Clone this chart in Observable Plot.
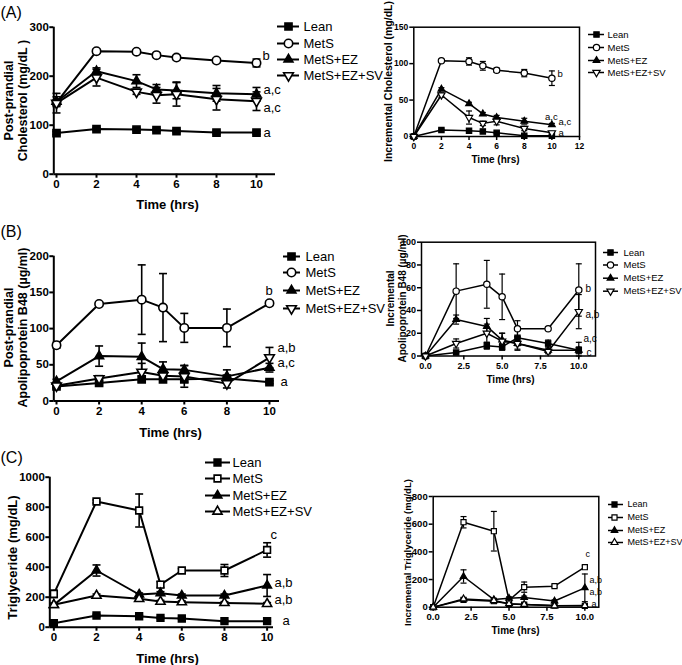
<!DOCTYPE html>
<html><head><meta charset="utf-8">
<script src="https://cdn.jsdelivr.net/npm/d3@7"></script>
<script src="https://cdn.jsdelivr.net/npm/@observablehq/plot@0.6"></script>
<style>
body{margin:0;background:#fff;}
#fig{position:relative;width:682px;height:665px;overflow:hidden;font-family:"Liberation Sans",Arial,Helvetica,sans-serif;}
</style></head><body><div id="fig"></div><script>
// ---------- data ----------
const hours = [0, 2, 4, 5, 6, 8, 10];
const groups = ["Lean", "MetS", "MetS+EZ", "MetS+EZ+SV"];

// (A) post-prandial cholesterol (mg/dL)
const cholLean = [84, 92, 91, 90, 88, 85, 85];
const cholLeanErr = [3, 3, 3, 3, 3, 3, 3];
const cholMetS = [146, 251, 250, 243, 238, 232, 227];
const cholMetSErr = [5, 4, 4, 4, 4, 4, 8];
const cholEZ = [148, 210, 190, 173, 171, 165, 163];
const cholEZErr = [10, 7, 13, 10, 17, 16, 14];
const cholSV = [145, 197, 168, 161, 163, 153, 149];
const cholSVErr = [20, 17, 5, 16, 24, 22, 19];
// (A) incremental cholesterol (mg/dL)
const incCholLean = [0, 9, 8, 7, 5, 1, 1];
const incCholLeanErr = [0, 1, 1, 1, 1, 1, 1];
const incCholMetS = [0, 104, 103, 97, 91, 87, 80];
const incCholMetSErr = [0, 1, 5, 6, 3, 5, 10];
const incCholEZ = [0, 65, 45, 31, 26, 21, 16];
const incCholEZErr = [0, 2, 2, 2, 3, 4, 2];
const incCholSV = [0, 57, 26, 18, 21, 11, 5];
const incCholSVErr = [0, 3, 9, 3, 5, 3, 2];

// (B) post-prandial apolipoprotein B48 (ug/ml)
const apoLean = [20, 25, 30, 30, 30, 31, 26];
const apoLeanErr = [2, 3, 4, 4, 4, 4, 2];
const apoMetS = [77, 134, 140, 129, 101, 101, 135];
const apoMetSErr = [4, 3, 48, 47, 20, 26, 3];
const apoEZ = [27, 62, 61, 44, 43, 34, 46];
const apoEZErr = [3, 14, 19, 10, 6, 9, 6];
const apoSV = [21, 31, 40, 35, 34, 24, 60];
const apoSVErr = [2, 4, 12, 8, 15, 6, 14];
// (B) incremental apolipoprotein B48
const incApoLean = [0, 3, 9, 8, 16, 11, 5];
const incApoLeanErr = [0, 1, 3, 3, 7, 3, 3];
const incApoMetS = [0, 57, 63, 52, 24, 24, 58];
const incApoMetSErr = [0, 24, 21, 20, 7, 0, 23];
const incApoEZ = [0, 32, 26, 14, 11, 5, 5];
const incApoEZErr = [0, 4, 7, 6, 5, 2, 7];
const incApoSV = [0, 11, 20, 13, 11, 4, 39];
const incApoSVErr = [0, 4, 8, 7, 6, 2, 15];

// (C) triglyceride (mg/dL)
const tgLean = [27, 78, 73, 62, 58, 40, 40];
const tgLeanErr = [5, 8, 6, 5, 5, 4, 4];
const tgMetS = [222, 838, 778, 284, 378, 378, 515];
const tgMetSErr = [25, 10, 110, 20, 12, 40, 48];
const tgEZ = [149, 378, 218, 227, 211, 211, 278];
const tgEZErr = [10, 37, 10, 10, 10, 10, 73];
const tgSV = [149, 211, 189, 171, 167, 162, 156];
const tgSVErr = [10, 10, 10, 8, 8, 8, 8];
// (C) incremental triglyceride
const incTgLean = [0, 53, 43, 24, 19, 12, 10];
const incTgLeanErr = [0, 5, 5, 4, 4, 3, 3];
const incTgMetS = [0, 614, 549, 50, 145, 152, 289];
const incTgMetSErr = [0, 41, 143, 10, 37, 8, 10];
const incTgEZ = [0, 222, 55, 65, 70, 45, 140];
const incTgEZErr = [0, 48, 10, 10, 10, 8, 100];
const incTgSV = [0, 60, 48, 25, 20, 10, 12];
const incTgSVErr = [0, 6, 5, 5, 5, 4, 4];

// tick values
const cholTicks = [0, 100, 200, 300];
const incCholTicks = [0, 50, 100, 150];
const apoTicks = [0, 50, 100, 150, 200];
const incApoTicks = [0, 20, 40, 60, 80, 100];
const tgTicks = [0, 200, 400, 600, 800, 1000];
const incTgTicks = [0, 200, 400, 600, 800];
const hourTicks = [0, 2, 4, 6, 8, 10];
const hourTicks12 = [0, 2, 4, 6, 8, 10, 12];
const hourTicksDec = [0, 2.5, 5, 7.5, 10];

// ---------- symbols ----------
const SQ3 = Math.sqrt(3);
const triangleDown = {draw(ctx, size) {
  const y = -Math.sqrt(size / (SQ3 * 3));
  ctx.moveTo(0, -y * 2); ctx.lineTo(-SQ3 * y, y); ctx.lineTo(SQ3 * y, y); ctx.closePath();
}};
const capSymbol = {draw(ctx, size) {
  const w = Math.sqrt(size / Math.PI);
  ctx.moveTo(-w, 0); ctx.lineTo(w, 0);
}};
const styleAB = [
  {symbol: "square", fill: "black", r: 4},
  {symbol: "circle", fill: "white", r: 4.2},
  {symbol: "triangle", fill: "black", r: 3.3},
  {symbol: triangleDown, fill: "white", r: 3.6}
];
const styleC = [
  {symbol: "square", fill: "black", r: 3.8},
  {symbol: "square", fill: "white", r: 3.8},
  {symbol: "triangle", fill: "black", r: 3.2},
  {symbol: "triangle", fill: "white", r: 3.4}
];

const fig = document.getElementById("fig");
const FONT = "'Liberation Sans', Arial, Helvetica, sans-serif";

function buildPanel(c) {
  const [bl, bt, bw, bh] = c.box;
  const {L, R, T, B, xd, yd} = c;
  const px = p => xd[0] + (p - L) / (R - L) * (xd[1] - xd[0]);
  const py = p => yd[0] + (B - p) / (B - T) * (yd[1] - yd[0]);
  const rows = [];
  c.series.forEach((s, k) => s.mean.forEach((v, i) => rows.push({g: groups[k], k, t: hours[i], v, e: s.err[i]})));
  const errRows = rows.filter(d => d.e > 0);
  const sc = c.scale;
  const marks = [];
  if (c.boxed) marks.push(Plot.frame({stroke: "black", strokeWidth: c.axisW}));
  else marks.push(
    Plot.ruleX([xd[0]], {stroke: "black", strokeWidth: c.axisW}),
    Plot.ruleY([yd[0]], {stroke: "black", strokeWidth: c.axisW})
  );
  marks.push(
    Plot.axisY({ticks: c.yTicks, tickSize: c.tickSize, tickPadding: c.tickPad, strokeWidth: c.axisW, label: null,
      tickFormat: d => String(d), fontSize: c.tickFont, fontWeight: "bold"}),
    Plot.axisX({ticks: c.xTicks, tickSize: c.tickSize, tickPadding: c.tickPad + 1, strokeWidth: c.axisW, label: null,
      tickFormat: c.xFmt || (d => String(d)), fontSize: c.tickFont, fontWeight: "bold"}),
    Plot.line(rows, {x: "t", y: "v", z: "g", stroke: "black", strokeWidth: c.lineW}),
    Plot.ruleX(errRows, {x: "t", y1: d => d.v - d.e, y2: d => d.v + d.e, stroke: "black", strokeWidth: c.errW}),
    Plot.dot(errRows, {x: "t", y: d => d.v + d.e, symbol: capSymbol, r: 4 * sc, fill: "none", stroke: "black", strokeWidth: c.errW}),
    Plot.dot(errRows, {x: "t", y: d => Math.max(yd[0], d.v - d.e), symbol: capSymbol, r: 4 * sc, fill: "none", stroke: "black", strokeWidth: c.errW})
  );
  c.styles.forEach((st, k) => {
    marks.push(Plot.dot(rows.filter(d => d.k === k), {x: "t", y: "v", symbol: st.symbol, r: st.r * sc,
      fill: st.fill, stroke: "black", strokeWidth: c.markW}));
  });
  // legend
  const lg = c.legend;
  const lrows = groups.map((g, k) => ({g, k, y: py(lg.rows[k]), x1: px(lg.x1), x2: px(lg.x2), xm: px(lg.xm), xt: px(lg.xt)}));
  marks.push(Plot.ruleY(lrows, {y: "y", x1: "x1", x2: "x2", stroke: "black", strokeWidth: c.lineW}));
  c.styles.forEach((st, k) => {
    marks.push(Plot.dot(lrows.filter(d => d.k === k), {x: "xm", y: "y", symbol: st.symbol, r: st.r * sc,
      fill: st.fill, stroke: "black", strokeWidth: c.markW}));
  });
  marks.push(Plot.text(lrows, {x: "xt", y: "y", text: "g", textAnchor: "start", fontSize: lg.font, fontWeight: "normal"}));
  // significance letters
  marks.push(Plot.text(c.letters.map(d => ({...d, xx: px(d.x), yy: py(d.y)})),
    {x: "xx", y: "yy", text: "s", textAnchor: "start", fontSize: c.letterFont, fontWeight: "normal"}));
  // axis titles
  marks.push(Plot.text([c.xTitle], {x: d => px(d.x), y: d => py(d.y), text: "s", fontSize: c.xTitle.size, fontWeight: "bold"}));
  marks.push(Plot.text([c.yTitle], {x: d => px(d.x), y: d => py(d.y), text: "s", rotate: -90, fontSize: c.yTitle.size,
    fontWeight: "bold", lineHeight: c.yTitle.lh || 1}));
  if (c.panelLabel) marks.push(Plot.text([c.panelLabel], {x: d => px(d.x), y: d => py(d.y), text: "s", textAnchor: "start",
    fontSize: c.panelLabel.size, fontWeight: "normal"}));

  const svg = Plot.plot({
    width: bw, height: bh,
    marginLeft: L - bl, marginRight: bl + bw - R, marginTop: T - bt, marginBottom: bt + bh - B,
    x: {domain: xd}, y: {domain: yd},
    style: {background: "transparent", fontFamily: FONT, color: "black", overflow: "visible"},
    marks
  });
  svg.style.position = "absolute";
  svg.style.left = bl + "px";
  svg.style.top = bt + "px";
  fig.appendChild(svg);
}

const big = {tickSize: 4, tickPad: 1, axisW: 2, lineW: 2, errW: 1.6, markW: 1.6, tickFont: 11.5, letterFont: 13, scale: 1};
const small = {tickSize: 4, tickPad: 1.5, axisW: 1.5, lineW: 1.5, errW: 1.2, markW: 1.2, tickFont: 8.5, letterFont: 9.5, scale: 0.75, boxed: true};

// (A) left
buildPanel({...big, box: [0, 0, 380, 215], L: 53.3, R: 275, T: 26.7, B: 173.7, xd: [-0.135, 10.95], yd: [0, 300],
  yTicks: cholTicks, xTicks: hourTicks, styles: styleAB,
  series: [{mean: cholLean, err: cholLeanErr}, {mean: cholMetS, err: cholMetSErr}, {mean: cholEZ, err: cholEZErr}, {mean: cholSV, err: cholSVErr}],
  legend: {x1: 277, x2: 299, xm: 288, xt: 303, rows: [26, 43, 59, 75], font: 13},
  letters: [{s: "b", x: 262, y: 55}, {s: "a,c", x: 263, y: 89}, {s: "a,c", x: 263, y: 107}, {s: "a", x: 263, y: 132}],
  xTitle: {s: "Time (hrs)", x: 167, y: 204, size: 13},
  yTitle: {s: "Post-prandial\nCholesterol (mg/dL )", x: 15, y: 100, size: 12.5, lh: 1.08},
  panelLabel: {s: "(A)", x: 0, y: 12, size: 16}});

// (A) right
buildPanel({...small, box: [380, 0, 302, 215], L: 413.3, R: 579, T: 26.7, B: 136, xd: [0, 12], yd: [0, 150],
  yTicks: incCholTicks, xTicks: hourTicks12, styles: styleAB,
  series: [{mean: incCholLean, err: incCholLeanErr}, {mean: incCholMetS, err: incCholMetSErr}, {mean: incCholEZ, err: incCholEZErr}, {mean: incCholSV, err: incCholSVErr}],
  legend: {x1: 588, x2: 604, xm: 596, xt: 607, rows: [34, 47, 60, 72], font: 9.5},
  letters: [{s: "b", x: 557, y: 73}, {s: "a,c", x: 544.5, y: 116}, {s: "a,c", x: 558, y: 121}, {s: "a", x: 558, y: 132.5}],
  xTitle: {s: "Time (hrs)", x: 495, y: 159, size: 10},
  yTitle: {s: "Incremental Cholesterol (mg/dL)", x: 388, y: 81, size: 10.5}});

// (B) left
buildPanel({...big, box: [0, 215, 380, 225], L: 53.3, R: 279, T: 255.7, B: 400.5, xd: [-0.127, 10.47], yd: [0, 200],
  yTicks: apoTicks, xTicks: hourTicks, styles: styleAB,
  series: [{mean: apoLean, err: apoLeanErr}, {mean: apoMetS, err: apoMetSErr}, {mean: apoEZ, err: apoEZErr}, {mean: apoSV, err: apoSVErr}],
  legend: {x1: 283, x2: 300, xm: 291, xt: 305, rows: [256, 272, 290, 308], font: 13},
  letters: [{s: "b", x: 265, y: 290}, {s: "a,b", x: 277, y: 347}, {s: "a,c", x: 277, y: 362}, {s: "a", x: 280, y: 381}],
  xTitle: {s: "Time (hrs)", x: 170, y: 432, size: 13},
  yTitle: {s: "Post-prandial\nApolipoprotein B48 (\u00b5g/ml)", x: 15, y: 327, size: 12.5, lh: 1.1},
  panelLabel: {s: "(B)", x: 0, y: 231, size: 16}});

// (B) right
buildPanel({...small, tickFont: 9, letterFont: 10, box: [380, 215, 302, 225], L: 421, R: 595, T: 241.7, B: 355.5, xd: [-0.26, 11.09], yd: [0, 100],
  yTicks: incApoTicks, xTicks: hourTicksDec, xFmt: d => d.toFixed(1), styles: styleAB,
  series: [{mean: incApoLean, err: incApoLeanErr}, {mean: incApoMetS, err: incApoMetSErr}, {mean: incApoEZ, err: incApoEZErr}, {mean: incApoSV, err: incApoSVErr}],
  legend: {x1: 603, x2: 618, xm: 610, xt: 623, rows: [252, 264.5, 277.7, 290.7], font: 9.5},
  letters: [{s: "b", x: 585, y: 288}, {s: "a,b", x: 585, y: 314}, {s: "a,c", x: 583, y: 338}, {s: "c", x: 586, y: 352}],
  xTitle: {s: "Time (hrs)", x: 510, y: 379, size: 10},
  yTitle: {s: "Incremental\nApolipoprotein B48 (\u00b5g/ml)", x: 396, y: 298, size: 10, lh: 1.2}});

// (C) left
buildPanel({...big, box: [0, 440, 380, 225], L: 49.3, R: 273, T: 476.7, B: 626.7, xd: [-0.19, 10.3], yd: [0, 1000],
  yTicks: tgTicks, xTicks: hourTicks, styles: styleC,
  series: [{mean: tgLean, err: tgLeanErr}, {mean: tgMetS, err: tgMetSErr}, {mean: tgEZ, err: tgEZErr}, {mean: tgSV, err: tgSVErr}],
  legend: {x1: 205, x2: 230, xm: 217, xt: 232, rows: [462, 478, 495, 511], font: 13},
  letters: [{s: "c", x: 270, y: 534}, {s: "a,b", x: 274, y: 582}, {s: "a,b", x: 274, y: 599}, {s: "a", x: 282, y: 620}],
  xTitle: {s: "Time (hrs)", x: 167, y: 658, size: 13},
  yTitle: {s: "Triglyceride (mg/dL)", x: 12, y: 557, size: 13},
  panelLabel: {s: "(C)", x: 0, y: 457, size: 16}});

// (C) right
buildPanel({...small, tickFont: 9.5, letterFont: 9, box: [380, 440, 302, 225], L: 432.7, R: 598.3, T: 496, B: 606.7, xd: [0, 10.92], yd: [0, 800],
  yTicks: incTgTicks, xTicks: hourTicksDec, xFmt: d => d.toFixed(1), styles: styleC,
  series: [{mean: incTgLean, err: incTgLeanErr}, {mean: incTgMetS, err: incTgMetSErr}, {mean: incTgEZ, err: incTgEZErr}, {mean: incTgSV, err: incTgSVErr}],
  legend: {x1: 608, x2: 623, xm: 614, xt: 627, rows: [504, 517, 530, 542], font: 9},
  letters: [{s: "c", x: 585, y: 554}, {s: "a,b", x: 589, y: 580}, {s: "a,b", x: 589, y: 592}, {s: "a", x: 591, y: 604}],
  xTitle: {s: "Time (hrs)", x: 515, y: 630, size: 10},
  yTitle: {s: "Incremental Triglyceride (mg/dL)", x: 407, y: 552, size: 9.5}});
</script></body></html>
